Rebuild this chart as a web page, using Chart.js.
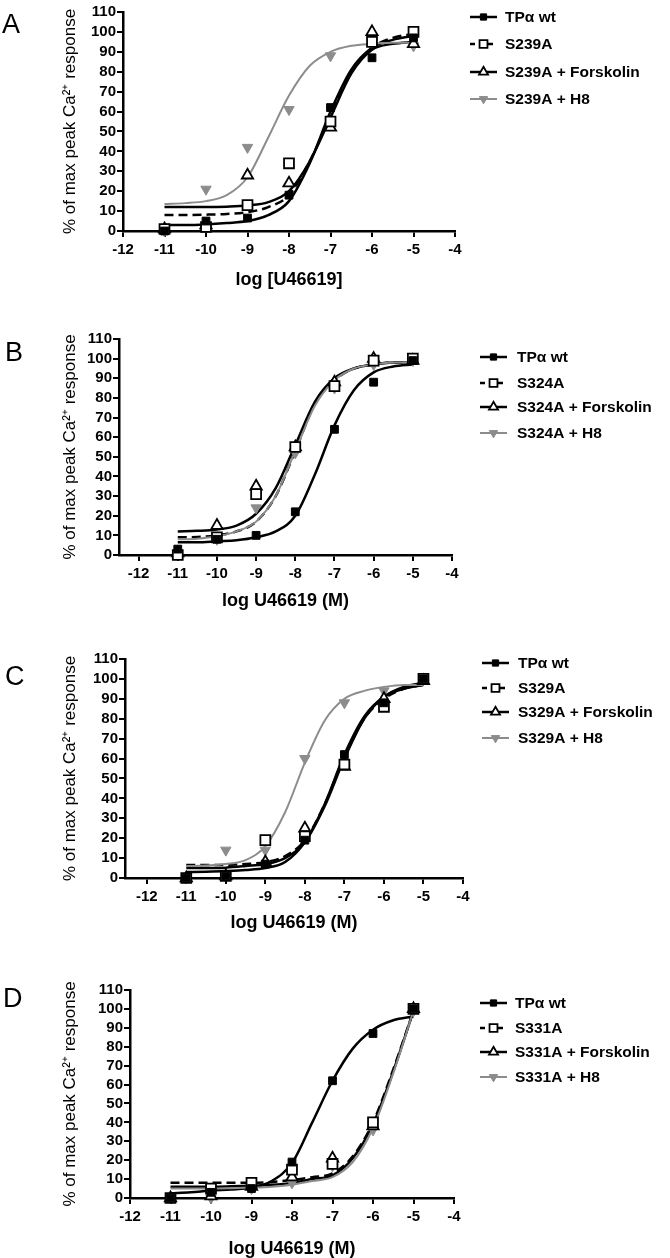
<!DOCTYPE html>
<html>
<head>
<meta charset="utf-8">
<script src="https://cdn.jsdelivr.net/npm/chart.js@4.4.1/dist/chart.umd.min.js"></script>
<style>
  body { margin: 0; background: #fff; width: 670px; height: 1258px; position: relative; overflow: hidden; }
  canvas { position: absolute; left: 0; }
</style>
</head>
<body>
<script>
// dose-response curves, 4 panels (A-D)
Chart.defaults.font.family = '"Liberation Sans", Arial, Helvetica, sans-serif';
Chart.defaults.color = '#000';

const doses   = [-11, -10, -9, -8, -7, -6, -5];
const fitLogs = [-11, -10.5, -10, -9.5, -9, -8.5, -8, -7.5, -7, -6.5, -6, -5.5, -5];
const xTicks  = [-12, -11, -10, -9, -8, -7, -6, -5, -4];
const yTicks  = [0, 10, 20, 30, 40, 50, 60, 70, 80, 90, 100, 110];

// A - S239A
const labelsA = ['TPα wt', 'S239A', 'S239A + Forskolin', 'S239A + H8'];
const wtA  = [0, 5, 6.5, 18, 62, 87, 97];
const mutA = [1, 2, 13, 34, 55, 95, 100];
const fskA = [1, 3, 28, 24, 52, 100, 94];
const h8A  = [0, 21, 42, 61, 88, 95, 93];
const wtFitA  = [3, 3, 3.3, 4, 5, 8, 15, 34, 60, 81, 92, 96, 98];
const mutFitA = [8, 8, 8.2, 8.6, 9.5, 12, 18, 35, 58, 80, 92, 97, 99];
const fskFitA = [12, 12, 12, 12.2, 12.8, 14.5, 20, 35, 57, 79, 91, 94, 95];
const h8FitA  = [13.5, 14, 15, 18, 27, 47, 68, 83, 90, 93, 94, 94.5, 94.5];

// B - S324A
const labelsB = ['TPα wt', 'S324A', 'S324A + Forskolin', 'S324A + H8'];
const wtB  = [3, 8, 10, 22, 64, 88, 99];
const mutB = [0, 9, 31, 55, 86, 99, 100];
const fskB = [1, 15, 35, 55, 88, 100, 99];
const h8B  = [1, 8, 24, 52, 85, 97, 99];
const wtFitB  = [6.5, 6.5, 7, 7.5, 9, 12, 20, 41, 66, 84, 93, 96, 97];
const mutFitB = [9, 9.2, 10, 12, 17, 30, 53, 77, 89, 95, 97, 98, 98];
const fskFitB = [12, 12.3, 13, 15, 21, 34, 56, 78, 90, 95, 97, 98, 98];
const h8FitB  = [8, 8.3, 9.5, 12, 17, 30, 53, 76, 89, 95, 97, 98, 98];

// C - S329A
const labelsC = ['TPα wt', 'S329A', 'S329A + Forskolin', 'S329A + H8'];
const wtC  = [0, 1, 7, 19, 62, 88, 100];
const mutC = [0, 1, 19, 21, 57, 86, 100];
const fskC = [0, 1, 8, 25, 56, 90, 99];
const h8C  = [0, 14, 14, 60, 88, 94, 100];
const wtFitC  = [3, 3.2, 3.5, 4, 5, 8, 18, 37, 62, 81, 91, 95, 97];
const mutFitC = [6.5, 6.5, 6.6, 7, 8, 11, 19, 37, 61, 80, 90, 95, 97];
const fskFitC = [5, 5, 5.2, 6, 7, 10, 18, 36, 60, 80, 91, 96, 98];
const h8FitC  = [6, 6.3, 7, 9, 16, 33, 58, 79, 90, 94, 96, 97, 97];

// D - S331A
const labelsD = ['TPα wt', 'S331A', 'S331A + Forskolin', 'S331A + H8'];
const wtD  = [0, 3, 5, 19, 62, 87, 100];
const mutD = [0, 5, 8, 15, 18, 40, 100];
const fskD = [0, 1, 6, 11, 21, 38, 100];
const h8D  = [0, 0, 5, 8, 17, 36, 99];
const wtFitD  = [2.5, 3, 4, 4.5, 5.5, 9, 18.5, 40, 62, 79, 89, 94, 96];
const mutFitD = [8, 8, 8, 8, 8, 8.5, 9.5, 11, 13, 22, 40, 68, 99];
const fskFitD = [6, 6, 6, 6.2, 6.5, 7, 8, 10, 12, 21, 39, 67, 99];
const h8FitD  = [5, 5, 5, 5.2, 5.5, 6, 7, 9, 11, 19, 37, 66, 99];

const GREY = '#8c8c8c';
const styles = [
  { shape: 'rect', rot: 0, fill: '#000', stroke: '#000', r: 5.5, bw: 1, line: '#000', dash: [], lw: 2.5 },
  { shape: 'rect', rot: 0, fill: '#fff', stroke: '#000', r: 7, bw: 1.8, line: '#000', dash: [9, 5], lw: 2.5 },
  { shape: 'triangle', rot: 0, fill: '#fff', stroke: '#000', r: 6.5, bw: 1.8, line: '#000', dash: [], lw: 2.5 },
  { shape: 'triangle', rot: 180, fill: GREY, stroke: GREY, r: 6, bw: 1, line: GREY, dash: [], lw: 2 }
];

const panels = [
  { tag: 'A', tagX: 2, tagY: 25, top: 0, h: 305, left: 123, right: 455, plotTop: 12, plotBottom: 231, xMin: -12,
    xTitle: 'log [U46619]', titleY: 282, labels: labelsA,
    pts: [wtA, mutA, fskA, h8A], fits: [wtFitA, mutFitA, fskFitA, h8FitA],
    legend: { x: 470, textX: 505, rows: [17, 44, 72, 99] } },
  { tag: 'B', tagX: 5, tagY: 353, top: 310, h: 305, left: 119, right: 452, plotTop: 339, plotBottom: 555, xMin: -12.5,
    xTitle: 'log U46619 (M)', titleY: 603, labels: labelsB,
    pts: [wtB, mutB, fskB, h8B], fits: [wtFitB, mutFitB, fskFitB, h8FitB],
    legend: { x: 480, textX: 517, rows: [357, 383, 407, 433] } },
  { tag: 'C', tagX: 5, tagY: 677, top: 620, h: 315, left: 125, right: 463, plotTop: 659, plotBottom: 878, xMin: -12.55,
    xTitle: 'log U46619 (M)', titleY: 925, labels: labelsC,
    pts: [wtC, mutC, fskC, h8C], fits: [wtFitC, mutFitC, fskFitC, h8FitC],
    legend: { x: 482, textX: 518, rows: [663, 688, 712, 738] } },
  { tag: 'D', tagX: 3, tagY: 999, top: 935, h: 330, left: 130, right: 454, plotTop: 990, plotBottom: 1198, xMin: -12,
    xTitle: 'log U46619 (M)', titleY: 1251, labels: labelsD,
    pts: [wtD, mutD, fskD, h8D], fits: [wtFitD, mutFitD, fskFitD, h8FitD],
    legend: { x: 480, textX: 515, rows: [1003, 1028, 1052, 1077] } }
];

function drawMarker(ctx, st, x, y, r) {
  ctx.save();
  ctx.setLineDash([]);
  ctx.lineWidth = st.bw;
  ctx.fillStyle = st.fill;
  ctx.strokeStyle = st.stroke;
  ctx.beginPath();
  if (st.shape === 'rect') {
    const s = r * Math.SQRT1_2;
    ctx.rect(x - s, y - s, 2 * s, 2 * s);
  } else {
    const d = st.rot ? -1 : 1;
    ctx.moveTo(x, y - d * r);
    ctx.lineTo(x + r * 0.866, y + d * r * 0.5);
    ctx.lineTo(x - r * 0.866, y + d * r * 0.5);
    ctx.closePath();
  }
  ctx.fill();
  ctx.stroke();
  ctx.restore();
}

// side legend + panel letter
const sideLegend = {
  id: 'sideLegend',
  afterDraw(chart, args, opts) {
    const ctx = chart.ctx;
    const p = opts.panel;
    ctx.save();
    ctx.fillStyle = '#000';
    ctx.font = '27px "Liberation Sans", Arial, sans-serif';
    ctx.textBaseline = 'middle';
    ctx.textAlign = 'left';
    ctx.fillText(p.tag, p.tagX, p.tagY - p.top + 1);
    p.labels.forEach((lab, i) => {
      const st = styles[i];
      const y = p.legend.rows[i] - p.top;
      const x0 = p.legend.x, x1 = p.legend.x + 27;
      ctx.save();
      ctx.strokeStyle = st.line;
      ctx.lineWidth = st.lw;
      ctx.setLineDash(i === 1 ? [5, 4] : []);
      ctx.beginPath();
      ctx.moveTo(x0, y);
      ctx.lineTo(x1, y);
      ctx.stroke();
      ctx.restore();
      drawMarker(ctx, st, (x0 + x1) / 2, y, st.r * 0.8);
      ctx.fillStyle = '#000';
      ctx.font = 'bold 15.5px "Liberation Sans", Arial, sans-serif';
      ctx.fillText(lab, p.legend.textX, y + 1);
    });
    ctx.restore();
  }
};

panels.forEach(p => {
  const cv = document.createElement('canvas');
  cv.width = 670;
  cv.height = p.h;
  cv.style.top = p.top + 'px';
  document.body.appendChild(cv);

  const titleLeft = 60;
  const xH = p.titleY - p.plotBottom + 9;
  const datasets = [];
  p.pts.forEach((vals, i) => {
    const st = styles[i];
    datasets.push({
      label: p.labels[i],
      data: doses.map((x, k) => ({ x: x, y: vals[k] })),
      showLine: false,
      pointStyle: st.shape,
      rotation: st.rot,
      pointRadius: st.r,
      pointBackgroundColor: st.fill,
      pointBorderColor: st.stroke,
      pointBorderWidth: st.bw,
      clip: false,
      order: i
    });
  });
  p.fits.forEach((vals, i) => {
    const st = styles[i];
    datasets.push({
      label: p.labels[i] + ' fit',
      data: fitLogs.map((x, k) => ({ x: x, y: vals[k] })),
      showLine: true,
      pointRadius: 0,
      borderColor: st.line,
      borderWidth: st.lw,
      borderDash: st.dash,
      cubicInterpolationMode: 'monotone',
      clip: false,
      order: 10 + (3 - i)
    });
  });

  new Chart(cv, {
    type: 'scatter',
    data: { datasets: datasets },
    plugins: [sideLegend],
    options: {
      responsive: false,
      animation: false,
      devicePixelRatio: 1,
      layout: {
        padding: {
          left: titleLeft,
          right: 670 - p.right,
          top: p.plotTop - p.top,
          bottom: p.h - (p.plotBottom - p.top) - xH
        }
      },
      plugins: {
        legend: { display: false },
        tooltip: { enabled: false },
        sideLegend: { panel: p }
      },
      scales: {
        x: {
          type: 'linear',
          min: p.xMin,
          max: -4,
          afterBuildTicks: s => { s.ticks = xTicks.map(v => ({ value: v })); },
          afterFit: s => { s.height = xH; },
          ticks: { font: { size: 15, weight: 'bold' }, padding: 4, maxRotation: 0, autoSkip: false, color: '#000' },
          grid: { drawOnChartArea: false, drawTicks: true, tickLength: 6, color: '#000', lineWidth: 2 },
          border: { color: '#000', width: 2.5 },
          title: { display: true, text: p.xTitle, font: { size: 18, weight: 'bold' }, padding: 0, color: '#000' }
        },
        y: {
          min: 0,
          max: 110,
          afterBuildTicks: s => { s.ticks = yTicks.map(v => ({ value: v })); },
          afterFit: s => { s.width = p.left - titleLeft; },
          ticks: { font: { size: 15, weight: 'bold' }, padding: 1, autoSkip: false, color: '#000' },
          grid: { drawOnChartArea: false, drawTicks: true, tickLength: 6, color: '#000', lineWidth: 2 },
          border: { color: '#000', width: 2.5 },
          title: { display: true, text: '% of max peak Ca²⁺ response', font: { size: 17 }, padding: 0, color: '#000' }
        }
      }
    }
  });
});
</script>
</body>
</html>
